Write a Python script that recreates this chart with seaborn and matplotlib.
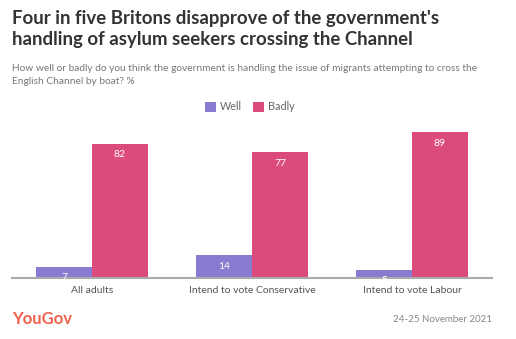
import matplotlib
matplotlib.use("Agg")
import matplotlib.pyplot as plt
import seaborn as sns
import pandas as pd
from matplotlib.patches import Patch

categories = ["All adults", "Intend to vote Conservative", "Intend to vote Labour"]
well = [7, 14, 5]
badly = [82, 77, 89]
series_names = ["Well", "Badly"]
palette = {"Well": "#8a7bd1", "Badly": "#db4b7e"}

title = "Four in five Britons disapprove of the government's\nhandling of asylum seekers crossing the Channel"
subtitle = ("How well or badly do you think the government is handling the issue of migrants attempting to cross the\n"
            "English Channel by boat? %")
date_text = "24-25 November 2021"

df = pd.DataFrame({
    "category": categories * 2,
    "response": [series_names[0]] * 3 + [series_names[1]] * 3,
    "value": well + badly,
})

sns.set_theme(style="white")
plt.rcParams["font.family"] = ["Lato", "DejaVu Sans"]

W, H = 516, 339
fig = plt.figure(figsize=(W / 100, H / 100), dpi=100)
px_per_unit = 1.636
ymax = 95
ax_h = ymax * px_per_unit
ax = fig.add_axes([12 / W, (H - 278) / H, 480 / W, ax_h / H])

sns.barplot(data=df, x="category", y="value", hue="response", hue_order=series_names,
            palette=palette, width=0.7, gap=0, saturation=1, linewidth=0,
            ax=ax, legend=False)

ax.set_xlim(-0.5, 2.5)
ax.set_ylim(0, ymax)
ax.set_xlabel("")
ax.set_ylabel("")
ax.set_yticks([])
for s in ["top", "right", "left"]:
    ax.spines[s].set_visible(False)
ax.spines["bottom"].set_color("#aaaaaa")
ax.spines["bottom"].set_linewidth(1.5)
ax.tick_params(axis="x", length=0, pad=6, labelsize=7.5, labelcolor="#555555")

for container in ax.containers:
    for bar in container:
        h = bar.get_height()
        ax.annotate(f"{h:.0f}", (bar.get_x() + bar.get_width() / 2, h),
                    xytext=(0, -11), textcoords="offset pixels",
                    ha="center", va="center", color="white", fontsize=7.5,
                    clip_on=False, zorder=5)

# legend
handles = [Patch(facecolor=palette[n], edgecolor="none") for n in series_names]
fig.legend(handles, series_names, loc="center", bbox_to_anchor=(250 / W, 1 - 107 / H),
           ncol=2, frameon=False, fontsize=7.8, labelcolor="#666666",
           handlelength=1.0, handleheight=1.0, handletextpad=0.4, columnspacing=1.0)

fig.text(12 / W, 1 - 10 / H, title, ha="left", va="top", fontsize=13.4,
         fontweight="bold", color="#333333", linespacing=1.3)
fig.text(12 / W, 1 - 64 / H, subtitle, ha="left", va="top", fontsize=7.3,
         color="#777777", linespacing=1.6)
fig.text(12 / W, 1 - 319 / H, "YouGov", ha="left", va="center", fontsize=12,
         fontweight="bold", color="#f0614d")
fig.text(492 / W, 1 - 320 / H, date_text, ha="right", va="center", fontsize=7,
         color="#888888")

fig.savefig("out.png", dpi=100, facecolor="white")
